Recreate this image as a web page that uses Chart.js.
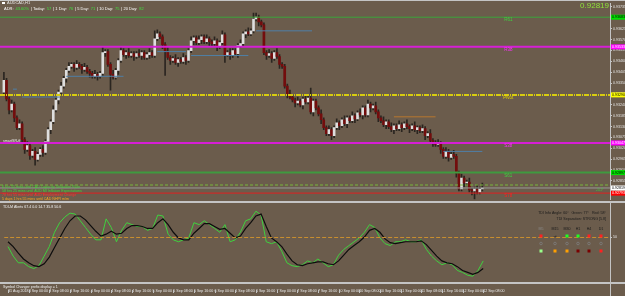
<!DOCTYPE html>
<html>
<head>
<meta charset="utf-8">
<script src="https://cdn.jsdelivr.net/npm/chart.js@4.4.1/dist/chart.umd.min.js"></script>
<style>
  html, body { margin: 0; padding: 0; background: #6b5c4c; }
  #wrap { position: relative; width: 625px; height: 296px; overflow: hidden; }
  canvas { position: absolute; left: 0; }
</style>
</head>
<body>
<div id="wrap">
  <canvas id="main" width="625" height="203" style="top:0"></canvas>
  <canvas id="tdi" width="625" height="93" style="top:203px"></canvas>
</div>
<script>
// AUDCAD H1, 31 Aug 2018 16:00 .. 12 Sep 08:00 (185 bars)
const opens = [
  0.93304, 0.93364, 0.93269, 0.93214, 0.93244, 0.93174, 0.93124, 0.93144, 0.93064, 0.93014,
  0.93034, 0.92984, 0.93004, 0.92964, 0.92989, 0.93014, 0.92999, 0.93054, 0.93114, 0.93154,
  0.93214, 0.93264, 0.93304, 0.93334, 0.93374, 0.93414, 0.93434, 0.93444, 0.93429, 0.93444,
  0.93434, 0.93419, 0.93429, 0.93409, 0.93399, 0.93384, 0.93394, 0.93384, 0.93399, 0.93504,
  0.93509, 0.93444, 0.93394, 0.93379, 0.93414, 0.93464, 0.93514, 0.93494, 0.93504, 0.93489,
  0.93499, 0.93484, 0.93499, 0.93489, 0.93504, 0.93479, 0.93494, 0.93504, 0.93489, 0.93574,
  0.93599, 0.93584, 0.93544, 0.93509, 0.93479, 0.93464, 0.93474, 0.93454, 0.93469, 0.93459,
  0.93479, 0.93464, 0.93514, 0.93564, 0.93579, 0.93554, 0.93569, 0.93584, 0.93559, 0.93574,
  0.93559, 0.93549, 0.93564, 0.93534, 0.93554, 0.93594, 0.93494, 0.93504, 0.93489, 0.93514,
  0.93499, 0.93539, 0.93549, 0.93599, 0.93609, 0.93599, 0.93614, 0.93674, 0.93684, 0.93659,
  0.93644, 0.93504, 0.93489, 0.93499, 0.93474, 0.93504, 0.93484, 0.93444, 0.93434, 0.93334,
  0.93294, 0.93279, 0.93264, 0.93249, 0.93259, 0.93239, 0.93269, 0.93254, 0.93274, 0.93204,
  0.93259, 0.93224, 0.93194, 0.93164, 0.93124, 0.93094, 0.93114, 0.93084, 0.93124, 0.93149,
  0.93134, 0.93164, 0.93144, 0.93174, 0.93159, 0.93184, 0.93169, 0.93199, 0.93189, 0.93224,
  0.93189, 0.93244, 0.93224, 0.93234, 0.93204, 0.93174, 0.93159, 0.93139, 0.93154, 0.93129,
  0.93114, 0.93134, 0.93119, 0.93139, 0.93124, 0.93144, 0.93129, 0.93119, 0.93134, 0.93114,
  0.93124, 0.93109, 0.93119, 0.93084, 0.93094, 0.93059, 0.93049, 0.93039, 0.93044, 0.93014,
  0.92979, 0.93004, 0.92974, 0.92989, 0.92979, 0.92894, 0.92814, 0.92869, 0.92844, 0.92849,
  0.92809, 0.92804, 0.92814, 0.92799, 0.92814
]
const closes = [
  0.93364, 0.93269, 0.93214, 0.93244, 0.93174, 0.93124, 0.93144, 0.93064, 0.93014, 0.93034,
  0.92984, 0.93004, 0.92964, 0.92989, 0.93014, 0.92999, 0.93054, 0.93114, 0.93154, 0.93214,
  0.93264, 0.93304, 0.93334, 0.93374, 0.93414, 0.93434, 0.93444, 0.93429, 0.93444, 0.93434,
  0.93419, 0.93429, 0.93409, 0.93399, 0.93384, 0.93394, 0.93384, 0.93399, 0.93504, 0.93509,
  0.93444, 0.93394, 0.93379, 0.93414, 0.93464, 0.93514, 0.93494, 0.93504, 0.93489, 0.93499,
  0.93484, 0.93499, 0.93489, 0.93504, 0.93479, 0.93494, 0.93504, 0.93489, 0.93574, 0.93599,
  0.93584, 0.93544, 0.93509, 0.93479, 0.93464, 0.93474, 0.93454, 0.93469, 0.93459, 0.93479,
  0.93464, 0.93514, 0.93564, 0.93579, 0.93554, 0.93569, 0.93584, 0.93559, 0.93574, 0.93559,
  0.93549, 0.93564, 0.93534, 0.93554, 0.93594, 0.93494, 0.93504, 0.93489, 0.93514, 0.93499,
  0.93539, 0.93549, 0.93599, 0.93609, 0.93599, 0.93614, 0.93674, 0.93684, 0.93659, 0.93644,
  0.93504, 0.93489, 0.93499, 0.93474, 0.93504, 0.93484, 0.93444, 0.93434, 0.93334, 0.93294,
  0.93279, 0.93264, 0.93249, 0.93259, 0.93239, 0.93269, 0.93254, 0.93274, 0.93204, 0.93259,
  0.93224, 0.93194, 0.93164, 0.93124, 0.93094, 0.93114, 0.93084, 0.93124, 0.93149, 0.93134,
  0.93164, 0.93144, 0.93174, 0.93159, 0.93184, 0.93169, 0.93199, 0.93189, 0.93224, 0.93189,
  0.93244, 0.93224, 0.93234, 0.93204, 0.93174, 0.93159, 0.93139, 0.93154, 0.93129, 0.93114,
  0.93134, 0.93119, 0.93139, 0.93124, 0.93144, 0.93129, 0.93119, 0.93134, 0.93114, 0.93124,
  0.93109, 0.93119, 0.93084, 0.93094, 0.93059, 0.93049, 0.93039, 0.93044, 0.93014, 0.92979,
  0.93004, 0.92974, 0.92989, 0.92979, 0.92894, 0.92814, 0.92869, 0.92844, 0.92849, 0.92809,
  0.92804, 0.92814, 0.92799, 0.92814, 0.92819
]
// shadow lengths in pips above / below the body
const wickUp = [
  4,1,1,2,1,1,2,1,1,2,1,1,2,1,1,2,1,1,1,2,
  1,1,2,1,1,2,1,1,2,1,1,2,1,1,1,2,1,1,3,1,
  1,1,2,1,1,2,1,1,2,1,1,1,2,1,1,1,2,1,4,2,
  1,1,1,2,1,1,2,1,1,2,1,1,2,1,1,2,1,1,2,1,
  1,2,1,1,2,1,1,2,1,1,1,2,1,1,2,1,3,2,1,1,
  1,1,2,1,1,2,1,1,1,1,2,1,1,2,1,1,2,1,5,1,
  1,1,2,1,1,2,1,1,2,1,1,2,1,1,2,1,1,2,1,1,
  2,1,1,2,1,1,2,1,1,2,1,1,2,1,1,2,1,1,2,1,
  1,2,1,1,2,1,1,2,1,1,2,1,1,2,1,1,2,1,1,2,
  1,1,2,1,2.5
]
const wickDown = [
  1,1,2,1,2,1,1,2,2,1,2,1,3,1,1,2,1,1,2,1,
  1,2,1,1,2,1,1,2,1,1,2,1,1,2,1,1,2,1,1,2,
  1,8,1,1,2,1,1,2,1,1,2,1,1,2,1,1,2,1,1,1,
  1,2,12,1,2,1,1,2,1,1,2,1,1,2,1,1,2,1,1,2,
  1,1,2,1,1,4,1,2,1,1,2,1,1,2,1,1,1,1,2,1,
  1,2,1,2,1,1,2,1,1,2,1,1,2,1,1,2,1,1,1,2,
  1,1,2,1,1,1,2,1,1,2,1,1,2,1,1,2,1,1,2,1,
  1,2,1,1,2,1,1,2,1,1,2,1,1,2,1,1,2,1,1,2,
  1,1,2,1,1,2,1,1,2,1,1,2,1,1,2,1,1,2,1,1,
  2,4,1,1,1
]

// pivot levels
const levelNames = ['R61', 'R38', 'Pivot', 'S38', 'S61', 'S78']
const levelPrices = [0.93683, 0.93533, 0.93290, 0.93047, 0.92897, 0.92793]
const currentPrice = 0.92819
const dashLevel = 0.92834

// short session lines: start bar, end bar, price
const segStart = [3.5, 7, 24, 59, 72, 97, 150, 169]
const segEnd = [5, 21.5, 46, 70, 94, 118.5, 166, 184]
const segPrice = [0.93319, 0.93279, 0.93384, 0.93509, 0.93489, 0.93614, 0.93179, 0.93004]

const priceTicks = [0.93735, 0.93680, 0.93625, 0.93570, 0.93515, 0.93460, 0.93405, 0.93350, 0.93295,
  0.93240, 0.93185, 0.93130, 0.93075, 0.93020, 0.92965, 0.92910, 0.92855, 0.92800]

const timeTickIdx = [0, 8, 16, 24, 32, 40, 48, 56, 64, 72, 80, 88, 96, 104, 112, 120, 128, 136, 144, 152, 160, 168, 176, 184]
const timeLabels = ['31 Aug 2018', '3 Sep 00:00', '3 Sep 08:00', '3 Sep 16:00', '4 Sep 00:00', '4 Sep 08:00',
  '4 Sep 16:00', '5 Sep 00:00', '5 Sep 08:00', '5 Sep 16:00', '6 Sep 00:00', '6 Sep 08:00', '6 Sep 16:00',
  '7 Sep 00:00', '7 Sep 08:00', '7 Sep 16:00', '10 Sep 00:00', '10 Sep 08:00', '10 Sep 16:00',
  '11 Sep 00:00', '11 Sep 08:00', '11 Sep 16:00', '12 Sep 00:00', '12 Sep 08:00']

// TDI, one reading every second bar
const tdiPrice = [
  39.6, 28.6, 20.9, 20.9, 16.5, 14.3, 17.6, 28.6, 39.6, 56.0, 67.0, 73.6, 78.0, 76.9, 69.2, 61.5,
  53.8, 47.3, 47.3, 71.4, 61.5, 45.1, 58.2, 67.0, 64.8, 62.6, 62.6, 58.2, 60.4, 75.8, 74.7, 53.8,
  47.3, 45.1, 47.3, 49.5, 67.0, 64.8, 69.2, 64.8, 60.4, 56.0, 64.8, 45.1, 47.3, 56.0, 69.2, 71.4,
  80.2, 75.8, 45.1, 42.9, 45.1, 34.1, 20.9, 17.6, 16.5, 18.7, 23.1, 20.9, 25.3, 20.9, 16.5, 18.7,
  29.7, 36.3, 40.7, 45.1, 49.5, 56.0, 64.8, 61.5, 49.5, 42.9, 40.7, 45.1, 45.1, 47.3, 45.1, 45.1,
  47.3, 36.3, 28.6, 23.1, 18.7, 20.9, 18.7, 12.1, 9.9, 6.6, 5.5, 12.1, 23.1
]
const tdiSignal = [
  45.1, 39.6, 31.9, 25.3, 20.9, 17.6, 16.5, 19.8, 27.5, 38.5, 49.5, 60.4, 69.2, 74.7, 74.7, 70.3,
  63.7, 57.1, 51.6, 53.8, 57.1, 53.8, 54.9, 60.4, 63.7, 63.7, 62.6, 60.4, 60.4, 67.0, 71.4, 64.8,
  56.0, 49.5, 47.3, 47.3, 54.9, 60.4, 65.9, 65.9, 62.6, 59.3, 60.4, 54.9, 49.5, 51.6, 60.4, 67.0,
  74.7, 76.9, 62.6, 49.5, 45.1, 39.6, 30.8, 23.1, 18.7, 17.6, 19.8, 20.9, 22.0, 22.0, 19.8, 18.7,
  23.1, 29.7, 36.3, 40.7, 45.1, 50.5, 58.2, 60.4, 56.0, 48.4, 44.0, 42.9, 44.0, 45.1, 45.1, 45.1,
  46.2, 41.8, 35.2, 28.6, 23.1, 20.9, 19.8, 16.5, 12.1, 9.9, 7.7, 9.9, 14.3
]
const tdiTicks = [50]

const newsLines = ['6 hrs 55 mins until CAD Capacity Utilization Rate',
  '58 hrs 25 mins until AUD MI Inflation Expectations',
  '78 hrs 55 mins until AUD Employment Change',
  '5 days 1 hrs 55 mins until CAD NHPI m/m']
const tfNames = ['M5', 'M15', 'M30', 'H1', 'H4', 'D1']

const PIP = 0.0001
const X_MIN = -1.5, X_MAX = 233.1
const FONT = '"Liberation Sans", Arial, sans-serif'
Chart.defaults.font.family = FONT

const levelLine = ['#3aa53a', '#d61ed6', '#d8cc10', '#d61ed6', '#3f9a3f', '#e02020']
const levelWidth = [1, 2, 2, 2, 2, 1]
const levelDash = [[], [], [5, 1, 1, 1], [], [], []]
const levelText = ['#3fd23f', '#ff30ff', '#e8d800', '#ff30ff', '#3fd23f', '#ff2020']
const levelBox = ['#00e000', '#ff00ff', '#ffff00', '#ff00ff', '#00e000', '#ff0000']

const wickData = closes.map((c, i) => ({
  x: i,
  y: [Math.min(opens[i], c) - wickDown[i] * PIP, Math.max(opens[i], c) + wickUp[i] * PIP]
}))
const bodyData = closes.map((c, i) => ({ x: i, y: [opens[i], c] }))
const bodyColors = closes.map((c, i) => c >= opens[i] ? '#dedede' : '#730d0d')

function hLine(price, color, width, dash, from = X_MIN, to = X_MAX) {
  return {
    type: 'line', order: 0,
    data: [{ x: from, y: price }, { x: to, y: price }],
    borderColor: color, borderWidth: width, borderDash: dash,
    pointRadius: 0
  }
}

const datasets = [
  { type: 'bar', order: 2, data: wickData, backgroundColor: '#2a2520', barThickness: 1, grouped: false },
  { type: 'bar', order: 1, data: bodyData, backgroundColor: bodyColors, barThickness: 2, grouped: false, minBarLength: 1 }
]
segPrice.forEach((p, k) => datasets.push(hLine(p, k === 6 ? '#b8772e' : '#4f7fa6', 1, [], segStart[k], segEnd[k])))
levelPrices.forEach((p, k) => datasets.push(hLine(p, levelLine[k], levelWidth[k], levelDash[k])))
datasets.push(hLine(dashLevel, '#79b63c', 1, [3, 2]))
datasets.push(hLine(currentPrice, '#9a9a9a', 1, []))

const mainDeco = {
  id: 'mainDeco',
  afterDraw(chart) {
    const { ctx, scales: { x, y } } = chart
    ctx.save()
    ctx.fillStyle = '#c4c4c4'
    ctx.fillRect(0, 0, 625, 1)
    ctx.fillRect(0, 201, 625, 2)
    ctx.textBaseline = 'middle'

    // level captions
    ctx.font = '4.5px ' + FONT
    ctx.textAlign = 'center'
    levelNames.forEach((n, k) => {
      ctx.fillStyle = levelText[k]
      ctx.fillText(n, x.getPixelForValue(194), y.getPixelForValue(levelPrices[k]) + 3)
    })

    // price flags on the axis
    const flags = levelPrices.map((p, k) => [p, levelBox[k]]).concat([[currentPrice, '#ffffff']])
    ctx.textAlign = 'left'
    ctx.font = '3.6px ' + FONT
    flags.forEach(([p, col]) => {
      const py = y.getPixelForValue(p)
      ctx.fillStyle = col
      ctx.fillRect(611, py - 2.5, 14, 5)
      ctx.fillStyle = (col === '#ff00ff' || col === '#ff0000') ? '#ffffff' : '#000000'
      ctx.fillText(p.toFixed(5), 612, py)
    })

    // header
    ctx.fillStyle = '#ffffff'
    ctx.fillRect(2, 2, 3, 2)
    ctx.font = '4px ' + FONT
    ctx.fillStyle = '#e8e8e8'
    ctx.fillText('AUDCAD,H1', 7, 3)
    const adr = [['ADR: ', '#ffffff'], ['43.60%', '#3fe03f'], [' | Today: ', '#ffffff'], ['57', '#3fe03f'],
      [' | 1 Day: ', '#ffffff'], ['76', '#3fe03f'], [' | 5 Day: ', '#ffffff'], ['71', '#3fe03f'],
      [' | 10 Day: ', '#ffffff'], ['75', '#3fe03f'], [' | 20 Day: ', '#ffffff'], ['82', '#3fe03f']]
    let ax = 4
    adr.forEach(([t, col]) => {
      ctx.fillStyle = col
      ctx.fillText(t, ax, 8.5)
      ax += ctx.measureText(t).width + 0.8
    })

    // last price
    ctx.font = '8px ' + FONT
    ctx.textAlign = 'right'
    ctx.fillStyle = '#8fe23a'
    ctx.fillText(currentPrice.toFixed(5), 609, 6)

    ctx.font = '4px ' + FONT
    ctx.fillStyle = '#3fd23f'
    ctx.fillText('-5.7', 603, 190)

    // indicator tag on S38
    ctx.textAlign = 'left'
    ctx.fillStyle = '#f0f0f0'
    ctx.font = '3.6px ' + FONT
    ctx.fillText('smartSR-tf', 3, y.getPixelForValue(levelPrices[3]) - 1.5)

    // news countdown
    const newsCol = ['#44d63a', '#44d63a', '#ff3030', '#ffa51f']
    newsLines.forEach((t, k) => {
      ctx.fillStyle = newsCol[k]
      ctx.fillText(t, 2, 187 + k * 4)
    })
    ctx.restore()
  }
}

new Chart(document.getElementById('main'), {
  type: 'bar',
  data: { datasets },
  options: {
    responsive: false,
    animation: false,
    layout: { padding: { top: 2, bottom: 2, left: 0, right: 0 } },
    scales: {
      x: { type: 'linear', min: X_MIN, max: X_MAX, offset: false, display: false },
      y: {
        position: 'right', min: 0.92759, max: 0.93754,
        afterFit: s => { s.width = 15 },
        afterBuildTicks: s => { s.ticks = priceTicks.map(v => ({ value: v })) },
        ticks: { color: '#e4e4e4', padding: 1, font: { size: 3.6 }, callback: v => v.toFixed(5) },
        grid: { drawOnChartArea: false, tickLength: 2, color: '#c4c4c4' },
        border: { color: '#c4c4c4' }
      }
    },
    plugins: { legend: { display: false }, tooltip: { enabled: false } }
  },
  plugins: [mainDeco]
})

const tdiDeco = {
  id: 'tdiDeco',
  afterDraw(chart) {
    const { ctx, scales: { x } } = chart
    ctx.save()
    ctx.fillStyle = '#c4c4c4'
    ctx.fillRect(0, 79, 625, 2)
    ctx.fillRect(610, 0, 1, 93)
    timeTickIdx.forEach(v => ctx.fillRect(Math.round(x.getPixelForValue(v)), 87, 1, 3))

    ctx.textBaseline = 'middle'
    ctx.textAlign = 'left'
    ctx.font = '3.6px ' + FONT
    ctx.fillStyle = '#f0f0f0'
    ctx.fillText('TDI-M Alerts 67.4 0.0 14.7 35.8 50.6', 3, 4)
    ctx.fillText('Symbol Changer prefix display = 1', 3, 84)

    ctx.textAlign = 'right'
    ctx.fillStyle = '#1a1a1a'
    ctx.fillText('TDI Info Angle: 60°   Green: 77°   Red: 58°', 606, 10)
    ctx.fillText('TDI Separation: STRONG [5.8]', 606, 16)

    const cols = [541, 555, 567, 578, 589, 601]
    const row1 = ['#ff2020', null, '#20ff20', '#20ff20', '#ff2020', '#ff2020']
    const row3 = ['#9aff8a', '#ffa000', '#ffa000', '#7a0000', '#7a0000', '#ff2020']
    ctx.textAlign = 'center'
    tfNames.forEach((n, k) => {
      const cx = cols[k]
      ctx.fillStyle = k === 0 ? '#8a8a8a' : '#1a1a1a'
      ctx.fillText(n, cx, 26)
      if (row1[k]) {
        ctx.fillStyle = row1[k]
        ctx.fillRect(cx - 1.5, 31.5, 3, 3)
      } else {
        ctx.font = '5px ' + FONT
        ctx.fillStyle = '#000000'
        ctx.fillText('→', cx, 33)
        ctx.font = '3.6px ' + FONT
      }
      ctx.strokeStyle = '#7e7e7e'
      ctx.lineWidth = 0.8
      ctx.beginPath()
      ctx.arc(cx, 40.5, 1.3, 0, Math.PI * 2)
      ctx.stroke()
      ctx.fillStyle = row3[k]
      ctx.fillRect(cx - 1.5, 46.5, 3, 3)
    })
    ctx.restore()
  }
}

new Chart(document.getElementById('tdi'), {
  type: 'line',
  data: {
    datasets: [
      { data: [{ x: X_MIN, y: 50 }, { x: X_MAX, y: 50 }], borderColor: '#c98f2f', borderWidth: 1, borderDash: [4, 2] },
      { data: tdiSignal.map((v, k) => ({ x: k * 2, y: v })), borderColor: '#0d0d0d', borderWidth: 1.2 },
      { data: tdiPrice.map((v, k) => ({ x: k * 2, y: v })), borderColor: '#3fd23f', borderWidth: 1 }
    ]
  },
  options: {
    responsive: false,
    animation: false,
    layout: { padding: { top: 1, bottom: 0, left: 0, right: 0 } },
    elements: { point: { radius: 0 }, line: { tension: 0 } },
    scales: {
      x: {
        type: 'linear', min: X_MIN, max: X_MAX, offset: false,
        afterFit: s => { s.height = 15 },
        afterBuildTicks: s => { s.ticks = timeTickIdx.map(v => ({ value: v })) },
        ticks: {
          autoSkip: false, maxRotation: 0, minRotation: 0, align: 'start', padding: 8,
          color: '#e8e8e8', font: { size: 3.6 }, callback: (v, k) => timeLabels[k]
        },
        grid: { display: false, drawTicks: false },
        border: { display: false }
      },
      y: {
        position: 'right', min: 0, max: 86,
        afterFit: s => { s.width = 15 },
        afterBuildTicks: s => { s.ticks = tdiTicks.map(v => ({ value: v })) },
        ticks: { color: '#e4e4e4', padding: 1, font: { size: 3.6 } },
        grid: { drawOnChartArea: false, tickLength: 2, color: '#c4c4c4' },
        border: { color: '#c4c4c4' }
      }
    },
    plugins: { legend: { display: false }, tooltip: { enabled: false } }
  },
  plugins: [tdiDeco]
})
</script>
</body>
</html>
